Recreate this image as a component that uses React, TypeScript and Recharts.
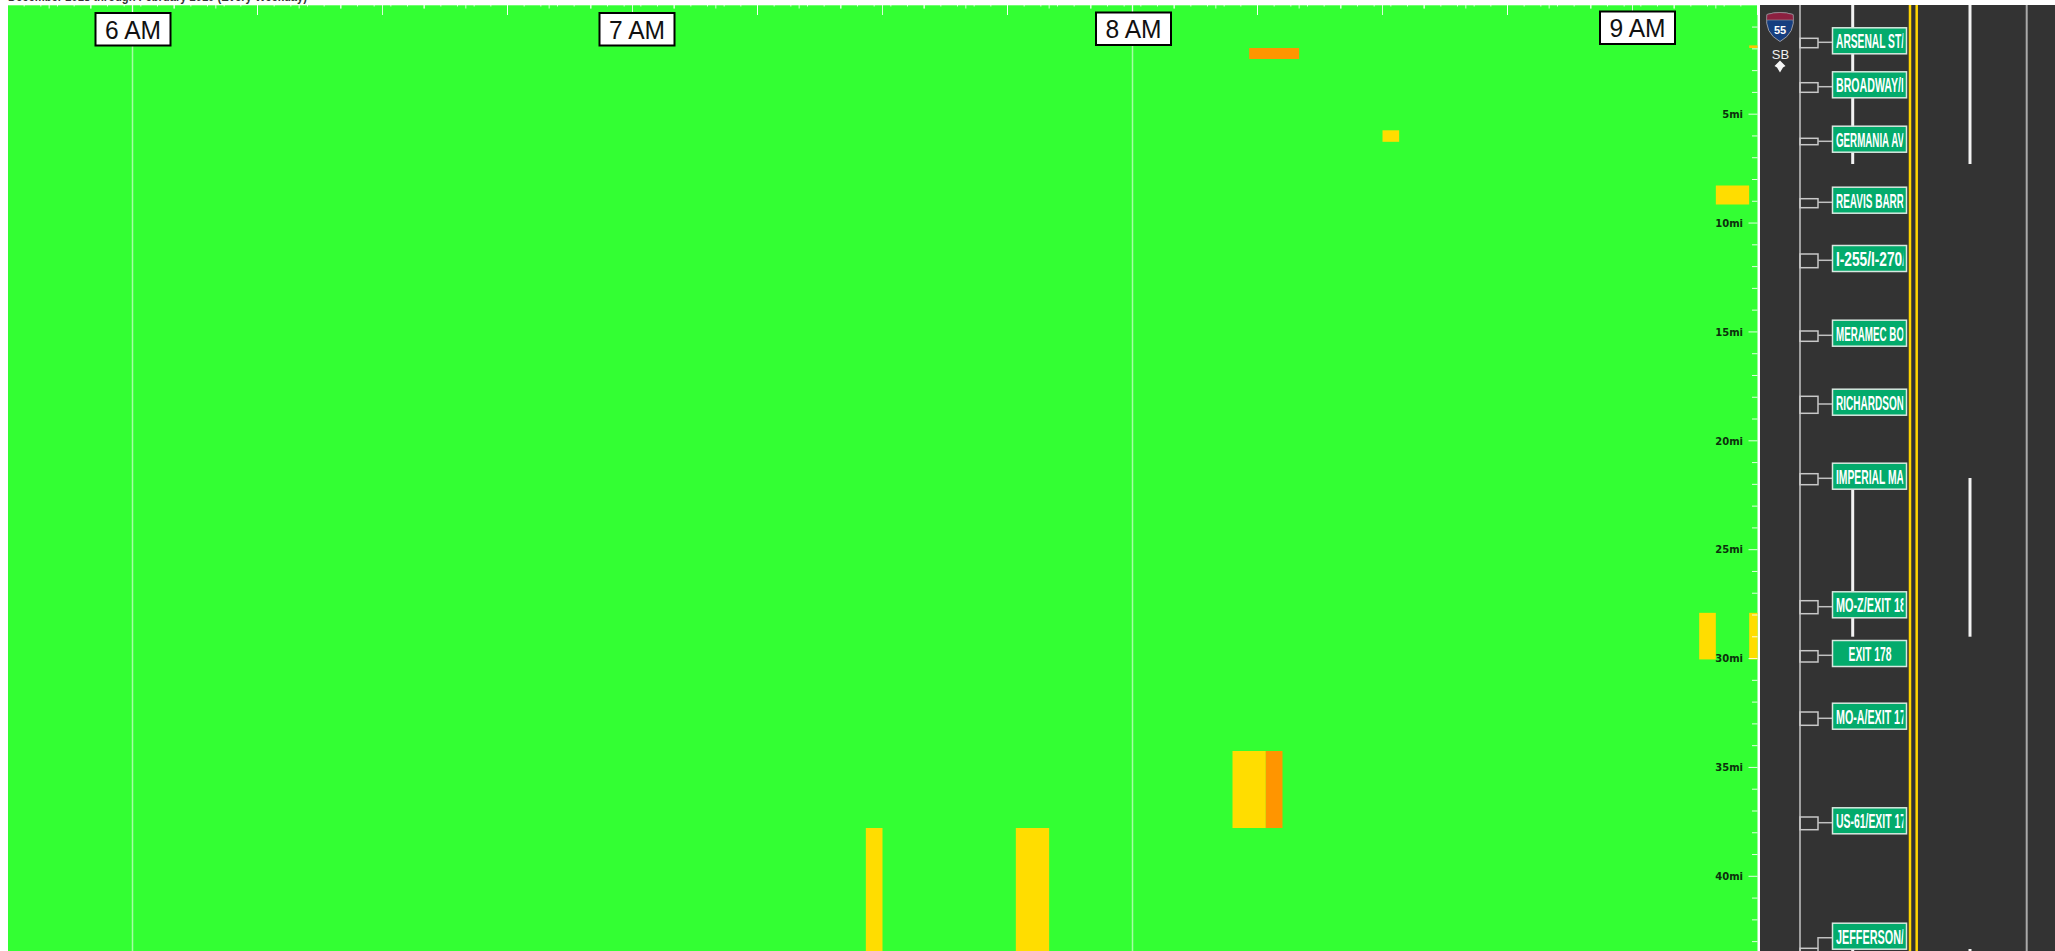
import { ComposedChart, XAxis, YAxis, CartesianGrid, ReferenceArea, ReferenceLine, Scatter } from "recharts";

const GREEN = "#33ff33";
const YELLOW = "#ffdd00";
const ORANGE = "#ff9500";
const AMBER = "#ffc400";

// minutes after midnight, miles along the route
const cells: { from: number; to: number; top: number; bottom: number; color: string }[] = [
  { from: 448, to: 450, top: 37.78, bottom: 43.5, color: YELLOW },
  { from: 466, to: 470, top: 37.78, bottom: 43.5, color: YELLOW },
  { from: 492, to: 496, top: 34.25, bottom: 37.78, color: YELLOW },
  { from: 496, to: 498, top: 34.25, bottom: 37.78, color: ORANGE },
  { from: 494, to: 500, top: 1.96, bottom: 2.47, color: ORANGE },
  { from: 510, to: 512, top: 5.74, bottom: 6.27, color: YELLOW },
  { from: 550, to: 554, top: 8.27, bottom: 9.15, color: YELLOW },
  { from: 548, to: 550, top: 27.9, bottom: 30.04, color: YELLOW },
  { from: 554, to: 555, top: 27.9, bottom: 30.04, color: YELLOW },
  { from: 554, to: 555, top: 1.84, bottom: 1.96, color: AMBER },
];

const hourTicks = [360, 420, 480, 540];
const hourLabels = ["6 AM", "7 AM", "8 AM", "9 AM"];
const hourLines = [360, 480];
const hourBoxOffset = [0.5, 4.5, 1, 5];
const hourBoxTop = [13, 13, 12.5, 11.5];

const mileTicks = [
  0, 1, 2, 3, 4, 5, 6, 7, 8, 9, 10, 11, 12, 13, 14, 15, 16, 17, 18, 19, 20, 21,
  22, 23, 24, 25, 26, 27, 28, 29, 30, 31, 32, 33, 34, 35, 36, 37, 38, 39, 40, 41, 42, 43,
];

const minuteTicks = Array.from({ length: 106 }, (_, i) => 345 + i * 2).concat(
  Array.from({ length: 43 }, (_, i) => 345 + i * 5)
);

const exitNames = [
  "ARSENAL ST/",
  "BROADWAY/I",
  "GERMANIA AV",
  "REAVIS BARR",
  "I-255/I-270/",
  "MERAMEC BO",
  "RICHARDSON",
  "IMPERIAL MA",
  "MO-Z/EXIT 18",
  "EXIT 178",
  "MO-A/EXIT 17",
  "US-61/EXIT 17",
  "JEFFERSON/",
];
const signTops = [27.8, 71.8, 126.2, 187.2, 245.5, 320.2, 389.2, 463.2, 591.8, 640.5, 703.2, 807.8, 923.2];
const rampTops = [38.3, 82.7, 138.3, 198.7, 254, 331, 396.3, 473.7, 600.7, 650.7, 712, 817, 948.3];
const rampBottoms = [47.7, 92.3, 144.7, 207.7, 267.7, 341.3, 413.3, 484.7, 613.7, 662, 725.3, 829.7, 960];
const rampStems = [42.3, 86.7, 141.3, 202.3, 260.3, 335.3, 404, 478.3, 606.7, 655.3, 718.3, 822.7, 937.7];

const PLOT_RIGHT = 1757.5;

function MileTick({ y, payload }: any) {
  const major = payload.value % 5 === 0;
  if (payload.value === 0) return null;
  return (
    <g>
      <line x1={PLOT_RIGHT - (major ? 9 : 5.5)} x2={PLOT_RIGHT} y1={y} y2={y} stroke="#ffffff" strokeOpacity={0.85} strokeWidth={1} />
      {major && (
        <text x={1743} y={y + 3.8} textAnchor="end" fontFamily="DejaVu Sans" fontWeight="bold" fontSize={10} fill="#0c300c">
          {payload.value}mi
        </text>
      )}
    </g>
  );
}

function TimeTick({ x, payload }: any) {
  const v = payload.value;
  const idx = hourTicks.indexOf(v);
  const len = v % 15 === 0 ? 10 : v % 5 === 0 ? 3.5 : 1.5;
  return (
    <g>
      <line x1={x} x2={x} y1={5} y2={5 + len} stroke="#ffffff" strokeOpacity={0.8} strokeWidth={1} />
      {idx >= 0 && (
        <g>
          <rect x={x - 37.5 + hourBoxOffset[idx]} y={hourBoxTop[idx]} width={75} height={32.5} fill="#fff" stroke="#000" strokeWidth={2} />
          <text
            x={x + hourBoxOffset[idx]}
            y={hourBoxTop[idx] + 25.5}
            textAnchor="middle"
            fontFamily="Liberation Sans"
            fontSize={26}
            fill="#111"
            textLength={56}
            lengthAdjust="spacingAndGlyphs"
          >
            {hourLabels[idx]}
          </text>
        </g>
      )}
    </g>
  );
}

function Road() {
  return (
    <svg width={2055} height={951} style={{ position: "absolute", left: 0, top: 0 }}>
      <rect x={0} y={0} width={8} height={951} fill="#fff" />
      <text x={8} y={1} fontFamily="Liberation Sans" fontWeight="bold" fontSize={13} fill="#333" textLength={299} lengthAdjust="spacingAndGlyphs">
        December 2018 through February 2019 (Every Weekday)
      </text>
      <rect x={1760} y={5} width={295} height={946} fill="#333333" />
      <line x1={1800} x2={1800} y1={5} y2={951} stroke="#c4c4c4" strokeWidth={1.5} />
      <line x1={1910} x2={1910} y1={5} y2={951} stroke="#ffd500" strokeWidth={2.5} />
      <line x1={1916.7} x2={1916.7} y1={5} y2={951} stroke="#ffd500" strokeWidth={2.5} />
      <line x1={2026.7} x2={2026.7} y1={5} y2={951} stroke="#aaaaaa" strokeWidth={2} />
      {[1852.7, 1970].map((x) => (
        <g key={x} stroke="#f2f2f2" strokeWidth={3}>
          <line x1={x} x2={x} y1={5} y2={164} />
          <line x1={x} x2={x} y1={x < 1900 ? 489 : 478} y2={636.7} />
          <line x1={x} x2={x} y1={949} y2={951} />
        </g>
      ))}

      {exitNames.map((name, i) => {
        const last = i === exitNames.length - 1;
        return (
          <g key={name}>
            <rect x={1800} y={rampTops[i]} width={18} height={rampBottoms[i] - rampTops[i]} fill="none" stroke="#c8c8c8" strokeWidth={1.5} />
            <path
              d={last ? `M1818 ${rampTops[i]} V${rampStems[i]} H1833` : `M1818 ${rampStems[i]} H1833`}
              fill="none"
              stroke="#c0c0c0"
              strokeWidth={1.5}
            />
            <rect x={1832.5} y={signTops[i]} width={74} height={26} fill="#03ab6c" stroke="#d8e8e0" strokeWidth={1.5} />
            <svg x={1834} y={signTops[i]} width={69.5} height={26}>
              <text
                x={name === "EXIT 178" ? 14.5 : 2}
                y={20.5}
                fontFamily="Liberation Sans"
                fontWeight="bold"
                fontSize={20}
                fill="#ffffff"
                textLength={name === "EXIT 178" ? 43 : name.length > 11 ? 70 : 68}
                lengthAdjust="spacingAndGlyphs"
              >
                {name}
              </text>
            </svg>
          </g>
        );
      })}

      <path d="M1767 14.5 Q1780 10.5 1793 14.5 Q1796 33 1780 41.5 Q1764 33 1767 14.5 Z" fill="#163e80" stroke="#9a9aa0" strokeWidth={1} />
      <path d="M1767 14.5 Q1780 10.5 1793 14.5 L1793.5 20 H1766.5 Z" fill="#8c2040" stroke="#9a9aa0" strokeWidth={0.6} />
      <text x={1780} y={34} textAnchor="middle" fontFamily="Liberation Sans" fontWeight="bold" fontSize={11} fill="#fff">
        55
      </text>
      <text x={1780.5} y={59} textAnchor="middle" fontFamily="Liberation Sans" fontSize={13} fill="#f0f0f0">
        SB
      </text>
      <path d="M1780 60.5 L1785.5 66 L1783 67.5 L1780 72.5 L1777 67.5 L1774.5 66 Z" fill="#f6f6f6" />
    </svg>
  );
}

export default function App() {
  return (
    <div style={{ position: "fixed", left: 0, top: 0, width: 2055, height: 951, overflow: "hidden", background: "#fff" }}>
      <ComposedChart
        width={2055}
        height={951}
        data={cells}
        margin={{ left: 7.5, right: 296.5, top: 4.3, bottom: 0 }}
      >
        <CartesianGrid xAxisId="t" yAxisId="m" horizontal={false} vertical={false} fill={GREEN} />
        <XAxis
          xAxisId="t"
          dataKey="from"
          type="number"
          orientation="top"
          domain={[345, 555]}
          ticks={minuteTicks}
          interval={0}
          height={1}
          axisLine={false}
          tickLine={false}
          tick={<TimeTick />}
        />
        <YAxis
          yAxisId="m"
          dataKey="top"
          type="number"
          reversed
          orientation="right"
          domain={[0, 43.43]}
          ticks={mileTicks}
          interval={0}
          width={1}
          axisLine={false}
          tickLine={false}
          tick={<MileTick />}
        />
        {cells.map((c, i) => (
          <ReferenceArea
            key={i}
            xAxisId="t"
            yAxisId="m"
            x1={c.from}
            x2={c.to}
            y1={c.top}
            y2={Math.min(c.bottom, 43.43)}
            fill={c.color}
            fillOpacity={1}
            stroke="none"
          />
        ))}
        {hourLines.map((h) => (
          <ReferenceLine key={h} xAxisId="t" yAxisId="m" x={h} stroke="#ffffff" strokeOpacity={0.55} strokeWidth={1.5} />
        ))}
        <Scatter xAxisId="t" yAxisId="m" data={cells} dataKey="top" shape={() => null} isAnimationActive={false} />
      </ComposedChart>
      <Road />
    </div>
  );
}
